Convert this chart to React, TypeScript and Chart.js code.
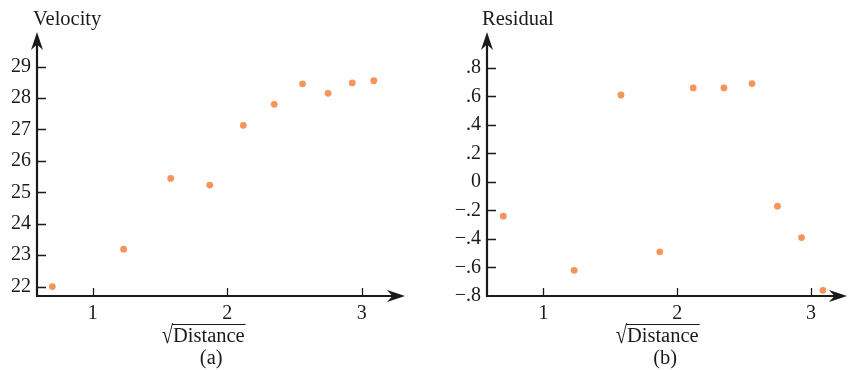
import React, { useEffect, useRef } from "react";
import { Chart, registerables } from "chart.js";

Chart.register(...registerables);

// ---- data ----
const sqrtDistance = [0.7, 1.23, 1.58, 1.87, 2.12, 2.35, 2.56, 2.75, 2.93, 3.09];
const velocity = [22.0, 23.19, 25.44, 25.23, 27.13, 27.8, 28.45, 28.15, 28.48, 28.55];
const residual = [-0.24, -0.62, 0.61, -0.49, 0.66, 0.66, 0.69, -0.17, -0.39, -0.76];

const xTicks = [1, 2, 3];
const velocityTicks = [22, 23, 24, 25, 26, 27, 28, 29];
const residualTicks = [-0.8, -0.6, -0.4, -0.2, 0, 0.2, 0.4, 0.6, 0.8];
const residualTickLabels = ["\u2212.8", "\u2212.6", "\u2212.4", "\u2212.2", "0", ".2", ".4", ".6", ".8"];

const FONT = "'Liberation Serif', 'Times New Roman', serif";
const INK = "#1a1a1a";
const DOT = "#f5955a";

function drawArrow(ctx: CanvasRenderingContext2D, x: number, y: number, angle: number) {
  ctx.save();
  ctx.translate(x, y);
  ctx.rotate(angle);
  ctx.beginPath();
  ctx.moveTo(0, 0);
  ctx.lineTo(-18, -6);
  ctx.lineTo(-12.5, 0);
  ctx.lineTo(-18, 6);
  ctx.closePath();
  ctx.fillStyle = INK;
  ctx.fill();
  ctx.restore();
}

function makeDecorPlugin(opts: { yTitle: string; yTitleX: number; xTitleShift: number; caption: string }) {
  return {
    id: "decor",
    afterDraw(chart: any) {
      const ctx: CanvasRenderingContext2D = chart.ctx;
      const { left, right, top, bottom } = chart.chartArea;
      const xs = chart.scales.x;
      const ys = chart.scales.y;
      ctx.save();
      ctx.strokeStyle = INK;
      ctx.lineWidth = 2.2;
      // axes
      ctx.beginPath();
      ctx.moveTo(left - 1, bottom);
      ctx.lineTo(right - 12, bottom);
      ctx.moveTo(left, bottom + 1);
      ctx.lineTo(left, top + 12);
      ctx.stroke();
      drawArrow(ctx, right, bottom, 0);
      drawArrow(ctx, left, top, -Math.PI / 2);
      // tick marks (inside)
      ctx.lineWidth = 1.3;
      ctx.beginPath();
      for (const t of xs.ticks) {
        const px = Math.round(xs.getPixelForValue(t.value)) + 0.5;
        ctx.moveTo(px, bottom);
        ctx.lineTo(px, bottom - 8);
      }
      for (const t of ys.ticks) {
        const py = Math.round(ys.getPixelForValue(t.value)) + 0.5;
        if (Math.abs(py - bottom) < 2) continue;
        ctx.moveTo(left, py);
        ctx.lineTo(left + 9, py);
      }
      ctx.stroke();
      // y title
      ctx.fillStyle = INK;
      ctx.font = `20.5px ${FONT}`;
      ctx.textAlign = "left";
      ctx.textBaseline = "alphabetic";
      ctx.fillText(opts.yTitle, opts.yTitleX, 25);
      // x title with radical
      const cx = xs.getPixelForValue(2) + opts.xTitleShift;
      const rad = "\u221A";
      const word = "Distance";
      const wr = ctx.measureText(rad).width;
      const ww = ctx.measureText(word).width;
      const x0 = cx - (wr + ww) / 2;
      const base = 342;
      ctx.save();
      ctx.translate(x0, base + 1);
      ctx.scale(1, 1.25);
      ctx.fillText(rad, 0, 0);
      ctx.restore();
      ctx.fillText(word, x0 + wr, base);
      ctx.lineWidth = 1.2;
      ctx.beginPath();
      ctx.moveTo(x0 + wr - 1, base - 17.5);
      ctx.lineTo(x0 + wr + ww + 1, base - 17.5);
      ctx.stroke();
      ctx.textAlign = "center";
      ctx.fillText(opts.caption, cx + 8, 364);
      ctx.restore();
    },
  };
}

function makeConfig(
  yValues: number[],
  yMin: number,
  yMax: number,
  yTicksList: number[],
  yLabel: (v: number, i: number) => string,
  yAxisWidth: number,
  xMin: number,
  xMax: number,
  padRight: number,
  plugin: any
): any {
  return {
    type: "scatter",
    data: {
      datasets: [
        {
          data: sqrtDistance.map((x, i) => ({ x, y: yValues[i] })),
          backgroundColor: DOT,
          borderColor: DOT,
          borderWidth: 0,
          pointRadius: 3.4,
          clip: false,
        },
      ],
    },
    options: {
      animation: false,
      responsive: false,
      devicePixelRatio: 1,
      layout: { padding: { top: 32, right: padRight, left: 0, bottom: 0 } },
      plugins: { legend: { display: false }, tooltip: { enabled: false } },
      scales: {
        x: {
          type: "linear",
          min: xMin,
          max: xMax,
          afterBuildTicks: (s: any) => {
            s.ticks = xTicks.map((v) => ({ value: v }));
          },
          afterFit: (s: any) => {
            s.height = 74;
          },
          grid: { display: false, drawTicks: false },
          border: { display: false },
          ticks: {
            color: INK,
            font: { family: FONT, size: 20 },
            padding: 6,
            maxRotation: 0,
            autoSkip: false,
            callback: (v: any) => String(v),
          },
        },
        y: {
          type: "linear",
          min: yMin,
          max: yMax,
          afterBuildTicks: (s: any) => {
            s.ticks = yTicksList.map((v) => ({ value: v }));
          },
          afterFit: (s: any) => {
            s.width = yAxisWidth;
          },
          grid: { display: false, drawTicks: false },
          border: { display: false },
          ticks: {
            color: INK,
            font: { family: FONT, size: 20 },
            padding: 6,
            autoSkip: false,
            callback: (v: any, i: number) => yLabel(v, i),
          },
        },
      },
    },
    plugins: [plugin],
  };
}

export default function App() {
  const leftRef = useRef<HTMLCanvasElement>(null);
  const rightRef = useRef<HTMLCanvasElement>(null);

  useEffect(() => {
    const left = new Chart(
      leftRef.current as HTMLCanvasElement,
      makeConfig(
        velocity,
        21.7,
        30.1,
        velocityTicks,
        (v) => String(v),
        37,
        0.586,
        3.322,
        20,
        makeDecorPlugin({ yTitle: "Velocity", yTitleX: 33, xTitleShift: -24, caption: "(a)" })
      )
    );
    const right = new Chart(
      rightRef.current as HTMLCanvasElement,
      makeConfig(
        residual,
        -0.8,
        1.052,
        residualTicks,
        (_v, i) => residualTickLabels[i],
        62,
        0.578,
        3.27,
        3,
        makeDecorPlugin({ yTitle: "Residual", yTitleX: 57, xTitleShift: -20, caption: "(b)" })
      )
    );
    return () => {
      left.destroy();
      right.destroy();
    };
  }, []);

  return (
    <div style={{ position: "fixed", left: 0, top: 0, width: 851, height: 370, background: "#fff" }}>
      <canvas ref={leftRef} width={425} height={370} style={{ position: "absolute", left: 0, top: 0 }} />
      <canvas ref={rightRef} width={426} height={370} style={{ position: "absolute", left: 425, top: 0 }} />
    </div>
  );
}
